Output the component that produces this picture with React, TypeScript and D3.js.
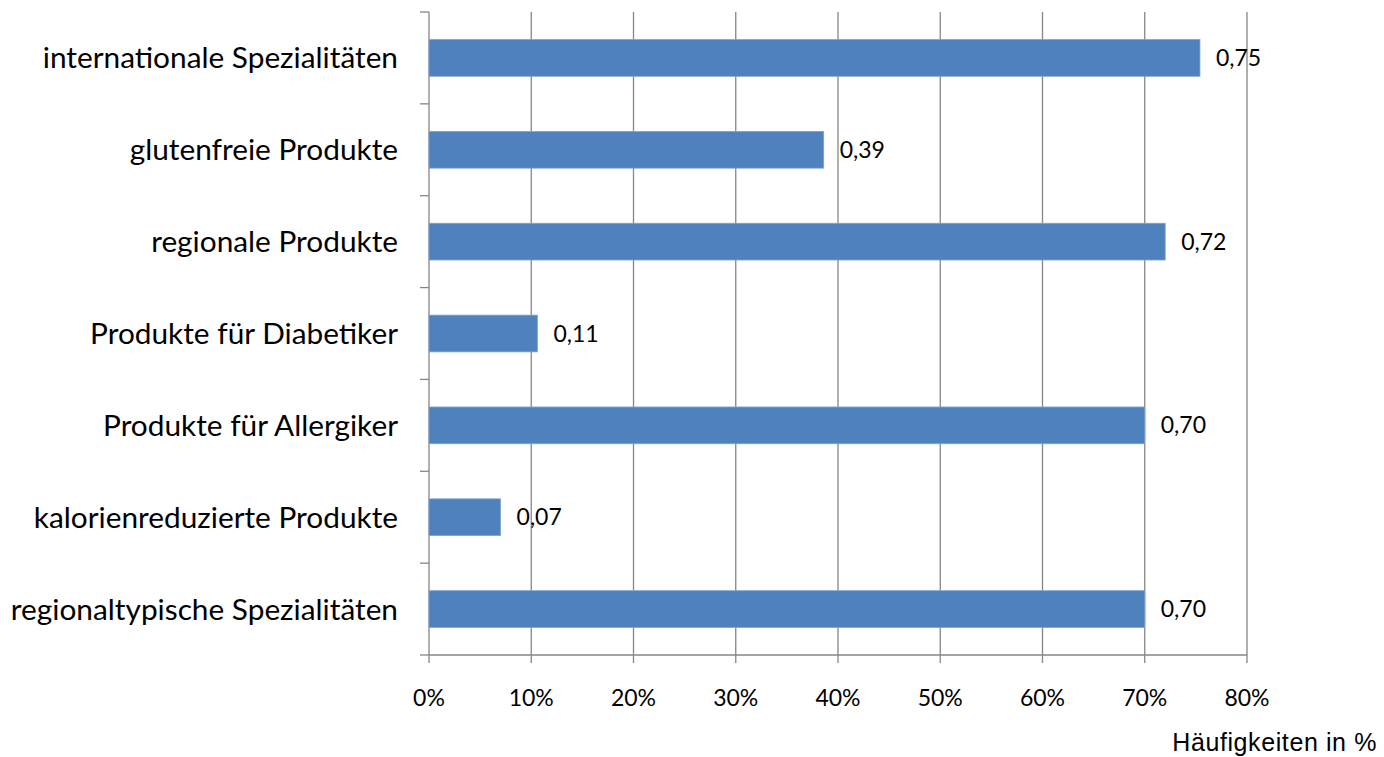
import React from "react";
import * as d3 from "d3";

const categories = [
  "internationale Spezialitäten",
  "glutenfreie Produkte",
  "regionale Produkte",
  "Produkte für Diabetiker",
  "Produkte für Allergiker",
  "kalorienreduzierte Produkte",
  "regionaltypische Spezialitäten",
];
const values = [0.754, 0.386, 0.72, 0.106, 0.7, 0.07, 0.7];
const xTicks = [0, 0.1, 0.2, 0.3, 0.4, 0.5, 0.6, 0.7, 0.8];
const axisTitle = "Häufigkeiten in %";

const W = 1384;
const H = 757;
const left = 429;
const right = 1247;
const top = 12;
const bottom = 655;
const font = "Lato, 'Open Sans', sans-serif";

export default function App() {
  const x = d3.scaleLinear().domain([0, 0.8]).range([left, right]);
  const y = d3
    .scaleBand<string>()
    .domain(categories)
    .range([top, bottom])
    .paddingInner(0.6)
    .paddingOuter(0.3);
  const step = (bottom - top) / categories.length;
  const boundaries = d3.range(categories.length + 1).map((i) => top + i * step);
  const fmt = (v: number) => v.toFixed(2).replace(".", ",");
  const grid = "#868686";

  return (
    <svg
      width={W}
      height={H}
      style={{ position: "absolute", left: 0, top: 0, background: "#fff" }}
    >
      {xTicks.map((t) => (
        <line
          key={"g" + t}
          x1={x(t)}
          x2={x(t)}
          y1={top}
          y2={bottom + 8}
          stroke={grid}
          strokeWidth={1.3}
        />
      ))}
      <line x1={left} x2={right} y1={bottom} y2={bottom} stroke={grid} strokeWidth={1.3} />
      {boundaries.map((b, i) => (
        <line
          key={"yt" + i}
          x1={left - 9}
          x2={left}
          y1={b}
          y2={b}
          stroke={grid}
          strokeWidth={1.3}
        />
      ))}
      {categories.map((c, i) => (
        <g key={c}>
          <rect
            x={x(0)}
            y={y(c)!}
            width={x(values[i]) - x(0)}
            height={y.bandwidth()}
            fill="#4F81BD"
            stroke="#7FA3CF"
            strokeWidth={0.8}
          />
          <text
            x={x(values[i]) + 16}
            y={y(c)! + y.bandwidth() / 2}
            dy="0.35em"
            fontFamily={font}
            fontSize={23}
            fill="#000"
          >
            {fmt(values[i])}
          </text>
          <text
            x={398}
            y={y(c)! + y.bandwidth() / 2}
            dy="0.35em"
            textAnchor="end"
            fontFamily={font}
            fontSize={29.8}
            fill="#000"
          >
            {c}
          </text>
        </g>
      ))}
      {xTicks.map((t) => (
        <text
          key={"xl" + t}
          x={x(t)}
          y={698}
          dy="0.35em"
          textAnchor="middle"
          fontFamily={font}
          fontSize={23}
          fill="#000"
        >
          {Math.round(t * 100) + "%"}
        </text>
      ))}
      <text
        x={1377}
        y={751}
        textAnchor="end"
        fontFamily="'Liberation Sans', Arial, sans-serif"
        fontSize={25}
        letterSpacing={0.6}
        fill="#000"
      >
        {axisTitle}
      </text>
    </svg>
  );
}
